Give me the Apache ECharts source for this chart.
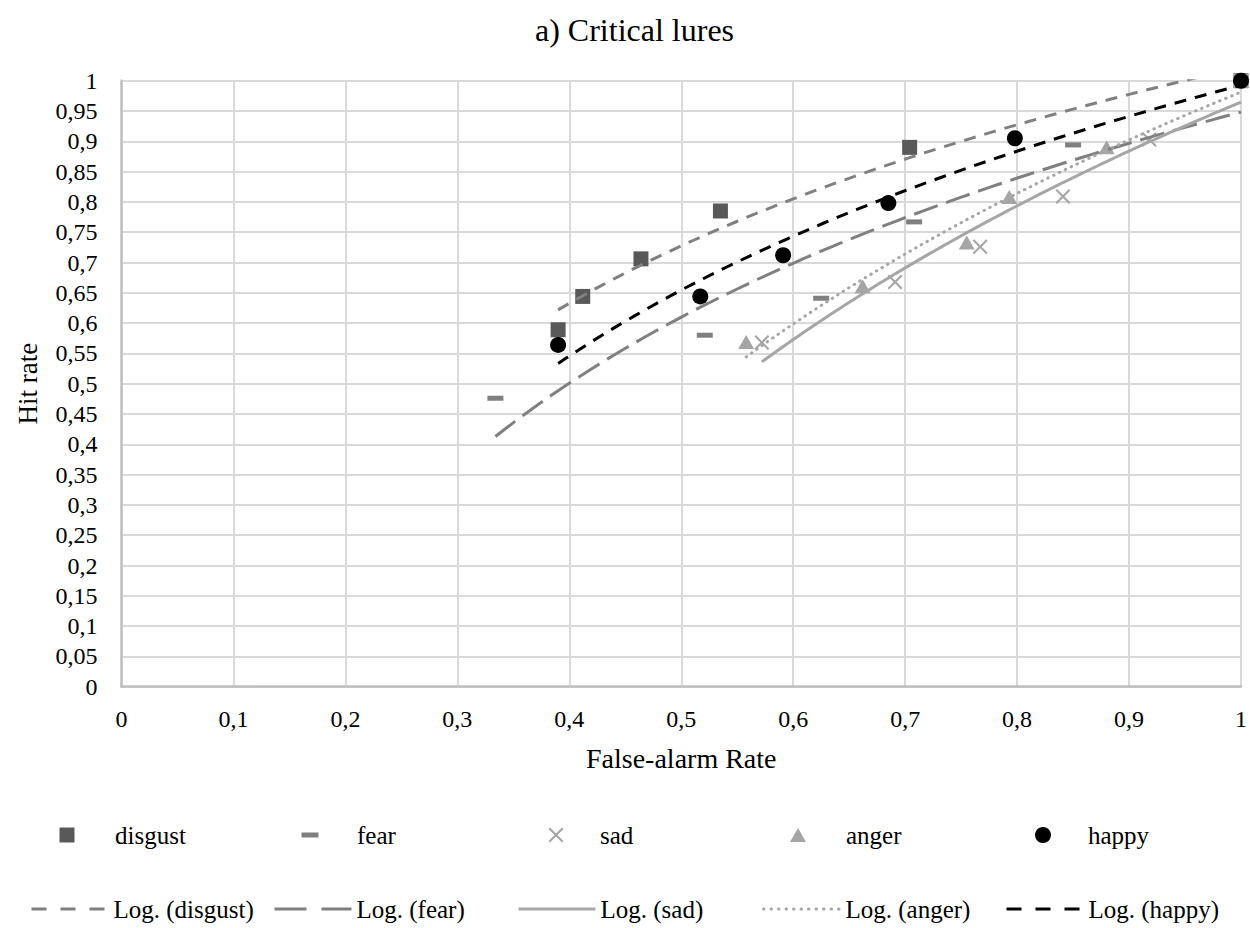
<!DOCTYPE html>
<html>
<head>
<meta charset="utf-8">
<script src="https://cdn.jsdelivr.net/npm/echarts@6/dist/echarts.min.js"></script>
<style>
html,body{margin:0;padding:0;background:#fff;}
#chart{width:1250px;height:928px;}
</style>
</head>
<body>
<div id="chart"></div>
<script>
// ---- data ----
const seriesNames = ['disgust', 'fear', 'sad', 'anger', 'happy'];
const disgustX = [0.390, 0.412, 0.464, 0.535, 0.704, 1];
const disgustY = [0.589, 0.644, 0.706, 0.785, 0.890, 1];
const fearX    = [0.334, 0.521, 0.625, 0.708, 0.850, 1];
const fearY    = [0.476, 0.580, 0.641, 0.767, 0.894, 1];
const sadX     = [0.572, 0.691, 0.767, 0.841, 0.918, 1];
const sadY     = [0.568, 0.668, 0.726, 0.809, 0.903, 1];
const angerX   = [0.558, 0.662, 0.755, 0.793, 0.880, 1];
const angerY   = [0.569, 0.661, 0.733, 0.808, 0.890, 1];
const happyX   = [0.390, 0.517, 0.591, 0.685, 0.798, 1];
const happyY   = [0.564, 0.644, 0.712, 0.798, 0.905, 1];
const xTickLabels = ['0','0,1','0,2','0,3','0,4','0,5','0,6','0,7','0,8','0,9','1'];
const yTickLabels = ['0','0,05','0,1','0,15','0,2','0,25','0,3','0,35','0,4','0,45','0,5','0,55','0,6','0,65','0,7','0,75','0,8','0,85','0,9','0,95','1'];

const FONT = 'Liberation Serif';
const xs = [disgustX, fearX, sadX, angerX, happyX];
const ys = [disgustY, fearY, sadY, angerY, happyY];

// Logarithmic trendline (least squares y = a ln x + b), as Excel computes it
function logFit(X, Y) {
  const n = X.length;
  const L = X.map(Math.log);
  const mL = L.reduce((s, v) => s + v, 0) / n;
  const mY = Y.reduce((s, v) => s + v, 0) / n;
  let sxy = 0, sxx = 0;
  for (let i = 0; i < n; i++) { sxy += (L[i] - mL) * (Y[i] - mY); sxx += (L[i] - mL) * (L[i] - mL); }
  const a = sxy / sxx;
  const b = mY - a * mL;
  const lo = Math.min(...X), hi = Math.max(...X);
  const pts = [];
  const N = 80;
  for (let k = 0; k <= N; k++) {
    const x = lo + (hi - lo) * k / N;
    pts.push([x, a * Math.log(x) + b]);
  }
  return pts;
}

const XPATH = 'path://M1,0 L5,4 L9,0 L10,1 L6,5 L10,9 L9,10 L5,6 L1,10 L0,9 L4,5 L0,1 Z';
const markerStyles = [
  { symbol: 'rect', size: 15, color: '#595959' },
  { symbol: 'rect', size: [16, 5], color: '#7f7f7f' },
  { symbol: XPATH, size: 15, color: '#a6a6a6' },
  { symbol: 'triangle', size: [16, 14], color: '#a5a5a5' },
  { symbol: 'circle', size: 16, color: '#000000' }
];
const lineStyles = [
  { color: '#808080', width: 3, type: [12, 9], cap: 'butt' },
  { color: '#808080', width: 3, type: [25, 9], cap: 'butt' },
  { color: '#a6a6a6', width: 3, type: 'solid', cap: 'butt' },
  { color: '#a6a6a6', width: 3, type: [0.5, 6], cap: 'round' },
  { color: '#000000', width: 3, type: [12, 9], cap: 'butt' }
];
// dash patterns as they look in the legend samples
const legendDash = [[15, 14], [32, 15], 'solid', [0.5, 7], [15, 14]];

const series = [];
seriesNames.forEach((nm, i) => {
  series.push({
    name: nm,
    type: 'scatter',
    data: xs[i].map((x, j) => [x, ys[i][j]]),
    symbol: markerStyles[i].symbol,
    symbolSize: markerStyles[i].size,
    itemStyle: { color: markerStyles[i].color, opacity: 1 },
    z: 2
  });
});
seriesNames.forEach((nm, i) => {
  series.push({
    name: 'Log. (' + nm + ')',
    type: 'line',
    data: logFit(xs[i], ys[i]),
    symbol: 'none',
    showSymbol: false,
    smooth: false,
    clip: true,
    itemStyle: { color: lineStyles[i].color },
    lineStyle: lineStyles[i],
    z: 3
  });
});

const textBase = { fontFamily: FONT, fontSize: 25, color: '#000', lineHeight: 30 };
const legends = [];
// row 1: marker legends  (icon centre x, icon w, icon h, text start x)
const row1 = [[67, 15, 15, 115], [310, 17, 5, 357], [556, 15, 15, 600], [798, 16, 14, 846], [1043, 16, 16, 1088]];
seriesNames.forEach((nm, i) => {
  const [cx, w, h, tx] = row1[i];
  const left = cx - w / 2;
  legends.push({
    data: [nm], left: left, top: 820, padding: 0, itemWidth: w, itemHeight: h,
    symbolKeepAspect: false, selectedMode: false,
    textStyle: Object.assign({}, textBase, { padding: [0, 0, 0, Math.max(0, tx - (left + w + 5))] })
  });
});
// row 2: trendline legends (line start x)
const row2 = [30, 273, 517, 762, 1005];
seriesNames.forEach((nm, i) => {
  legends.push({
    data: ['Log. (' + nm + ')'], left: row2[i], top: 894, padding: 0, itemWidth: 77, itemHeight: 14,
    selectedMode: false,
    itemStyle: { opacity: 0, borderWidth: 0 },
    lineStyle: { type: legendDash[i], width: 3, cap: lineStyles[i].cap, color: lineStyles[i].color, opacity: 1 },
    textStyle: Object.assign({}, textBase)
  });
});

const option = {
  animation: false,
  backgroundColor: '#ffffff',
  title: {
    text: 'a) Critical lures', left: 535, top: 14, padding: 0,
    textStyle: { fontFamily: FONT, fontSize: 32, fontWeight: 'normal', color: '#000' }
  },
  legend: legends,
  grid: { left: 121.5, right: 8.3, top: 80.7, bottom: 241.3 },
  xAxis: {
    type: 'value', min: 0, max: 1, interval: 0.1,
    name: 'False-alarm Rate', nameLocation: 'middle', nameGap: 58,
    nameTextStyle: { fontFamily: FONT, fontSize: 28, color: '#000' },
    axisLine: { show: true, onZero: false, lineStyle: { color: '#bfbfbf', width: 2.5 } },
    axisTick: { show: false },
    axisLabel: { fontFamily: FONT, fontSize: 24, color: '#000', margin: 20,
      formatter: v => xTickLabels[Math.round(v / 0.1)] },
    splitLine: { show: true, lineStyle: { color: '#d9d9d9', width: 2 } }
  },
  yAxis: {
    type: 'value', min: 0, max: 1, interval: 0.05,
    name: 'Hit rate', nameLocation: 'middle', nameGap: 80, nameRotate: 90,
    nameTextStyle: { fontFamily: FONT, fontSize: 27, color: '#000' },
    axisLine: { show: true, onZero: false, lineStyle: { color: '#bfbfbf', width: 2.5 } },
    axisTick: { show: false },
    axisLabel: { fontFamily: FONT, fontSize: 24, color: '#000', margin: 24,
      formatter: v => yTickLabels[Math.round(v / 0.05)] },
    splitLine: { show: true, lineStyle: { color: '#d9d9d9', width: 2 } }
  },
  series: series
};

const chart = echarts.init(document.getElementById('chart'), null, { renderer: 'svg' });
chart.setOption(option);
</script>
</body>
</html>
